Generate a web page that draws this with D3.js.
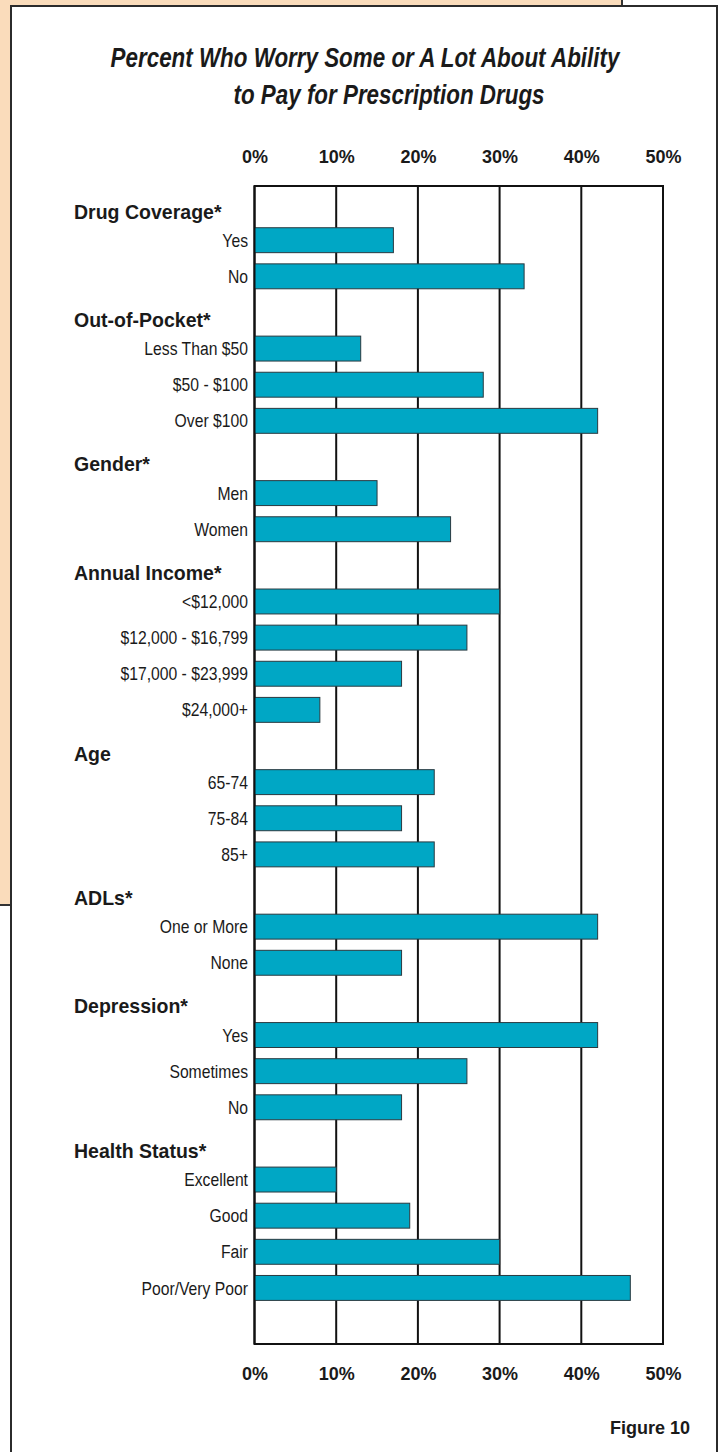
<!DOCTYPE html>
<html>
<head>
<meta charset="utf-8">
<script src="https://cdn.jsdelivr.net/npm/d3@7"></script>
<style>
  html, body { margin: 0; padding: 0; background: #ffffff; }
  svg { display: block; }
  text { font-family: "Liberation Sans", Arial, Helvetica, sans-serif; fill: #1a1a1a; }
</style>
</head>
<body>
<svg id="chart" width="721" height="1452"></svg>
<script>
// Survey groups, the answers within each group, and the share (%) who worry
const groupNames = ["Drug Coverage*", "Out-of-Pocket*", "Gender*", "Annual Income*", "Age", "ADLs*", "Depression*", "Health Status*"];
const drugCoverage = ["Yes", "No"];
const outOfPocket = ["Less Than $50", "$50 - $100", "Over $100"];
const gender = ["Men", "Women"];
const annualIncome = ["<$12,000", "$12,000 - $16,799", "$17,000 - $23,999", "$24,000+"];
const age = ["65-74", "75-84", "85+"];
const adls = ["One or More", "None"];
const depression = ["Yes", "Sometimes", "No"];
const healthStatus = ["Excellent", "Good", "Fair", "Poor/Very Poor"];

const drugCoverageValues = [17, 33];
const outOfPocketValues = [13, 28, 42];
const genderValues = [15, 24];
const annualIncomeValues = [30, 26, 18, 8];
const ageValues = [22, 18, 22];
const adlsValues = [42, 18];
const depressionValues = [42, 26, 18];
const healthStatusValues = [10, 19, 30, 46];

const tickValues = [0, 10, 20, 30, 40, 50];
const titleLines = ["Percent Who Worry Some or A Lot About Ability", "to Pay for Prescription Drugs"];
const figureLabel = "Figure 10";

const groupItems = [drugCoverage, outOfPocket, gender, annualIncome, age, adls, depression, healthStatus];
const groupValues = [drugCoverageValues, outOfPocketValues, genderValues, annualIncomeValues, ageValues, adlsValues, depressionValues, healthStatusValues];

// One row per group header followed by one row per answer
const rows = [];
groupNames.forEach((g, i) => {
  rows.push({ type: "header", key: "g" + i, label: g });
  groupItems[i].forEach((label, j) => {
    rows.push({ type: "bar", key: "g" + i + "-" + j, label: label, value: groupValues[i][j] });
  });
});

const svg = d3.select("#chart");

// Layout
const plot = { left: 254.5, right: 663, top: 186, bottom: 1344 };
const rowsBottom = 1306;

const x = d3.scaleLinear().domain([0, 50]).range([plot.left, plot.right]);
const y = d3.scaleBand()
  .domain(rows.map(r => r.key))
  .range([plot.top, rowsBottom])
  .paddingInner(0.31)
  .paddingOuter(0.155);

// Background: tinted page behind the white figure panel
svg.append("rect")
  .attr("x", -4).attr("y", -4)
  .attr("width", 626).attr("height", 909)
  .attr("fill", "#fadcbb")
  .attr("stroke", "#333")
  .attr("stroke-width", 2);

svg.append("rect")
  .attr("x", 11).attr("y", 6)
  .attr("width", 706).attr("height", 1470)
  .attr("fill", "#ffffff")
  .attr("stroke", "#2b2b2b")
  .attr("stroke-width", 2);

// Condensed text helper: horizontal squeeze applied around the anchor point
function ctext(sel, px, py, sx) {
  return sel.attr("transform", `translate(${px},${py}) scale(${sx},1)`).attr("x", 0).attr("y", 0);
}

// Title
titleLines.forEach((t, i) => {
  const cx = i === 0 ? 365 : 389;
  ctext(svg.append("text"), cx, 67 + i * 37, 0.8)
    .attr("text-anchor", "middle")
    .attr("font-size", 28)
    .attr("font-weight", "bold")
    .attr("font-style", "italic")
    .text(t);
});

// Vertical gridlines (under the bars)
svg.append("g")
  .selectAll("line")
  .data(tickValues)
  .join("line")
  .attr("x1", d => x(d)).attr("x2", d => x(d))
  .attr("y1", plot.top).attr("y2", plot.bottom)
  .attr("stroke", "#111")
  .attr("stroke-width", 2);

// Bars
const barRows = rows.filter(r => r.type === "bar");
svg.append("g")
  .selectAll("rect")
  .data(barRows)
  .join("rect")
  .attr("x", x(0))
  .attr("y", d => y(d.key))
  .attr("width", d => x(d.value) - x(0))
  .attr("height", y.bandwidth())
  .attr("fill", "#00a7c5")
  .attr("stroke", "#2a3a40")
  .attr("stroke-width", 1);

// Plot frame on top
svg.append("rect")
  .attr("x", x(0)).attr("y", plot.top)
  .attr("width", x(50) - x(0)).attr("height", plot.bottom - plot.top)
  .attr("fill", "none")
  .attr("stroke", "#111")
  .attr("stroke-width", 2);

// Percent axes, top and bottom
const fmt = d => d + "%";
const topAxis = svg.append("g")
  .attr("transform", "translate(0,163)")
  .call(d3.axisTop(x).tickValues(tickValues).tickFormat(fmt).tickSize(0).tickPadding(0));
const bottomAxis = svg.append("g")
  .attr("transform", "translate(0,1380)")
  .call(d3.axisBottom(x).tickValues(tickValues).tickFormat(fmt).tickSize(0).tickPadding(0));
[topAxis, bottomAxis].forEach(a => {
  a.select(".domain").remove();
  a.selectAll("text")
    .attr("dy", 0)
    .attr("y", 0)
    .attr("font-family", "Liberation Sans, Arial, sans-serif")
    .attr("font-size", 18)
    .attr("font-weight", "bold")
    .attr("fill", "#1a1a1a");
});

// Row labels
rows.forEach(r => {
  const cy = y(r.key) + y.bandwidth() / 2;
  if (r.type === "header") {
    ctext(svg.append("text"), 74, cy + 14.5, 0.93)
      .attr("font-size", 21)
      .attr("font-weight", "bold")
      .text(r.label);
  } else {
    ctext(svg.append("text"), 248, cy + 6.6, 0.85)
      .attr("text-anchor", "end")
      .attr("font-size", 18.5)
      .text(r.label);
  }
});

// Figure number
svg.append("text")
  .attr("x", 690).attr("y", 1434)
  .attr("text-anchor", "end")
  .attr("font-size", 18)
  .attr("font-weight", "bold")
  .text(figureLabel);
</script>
</body>
</html>
